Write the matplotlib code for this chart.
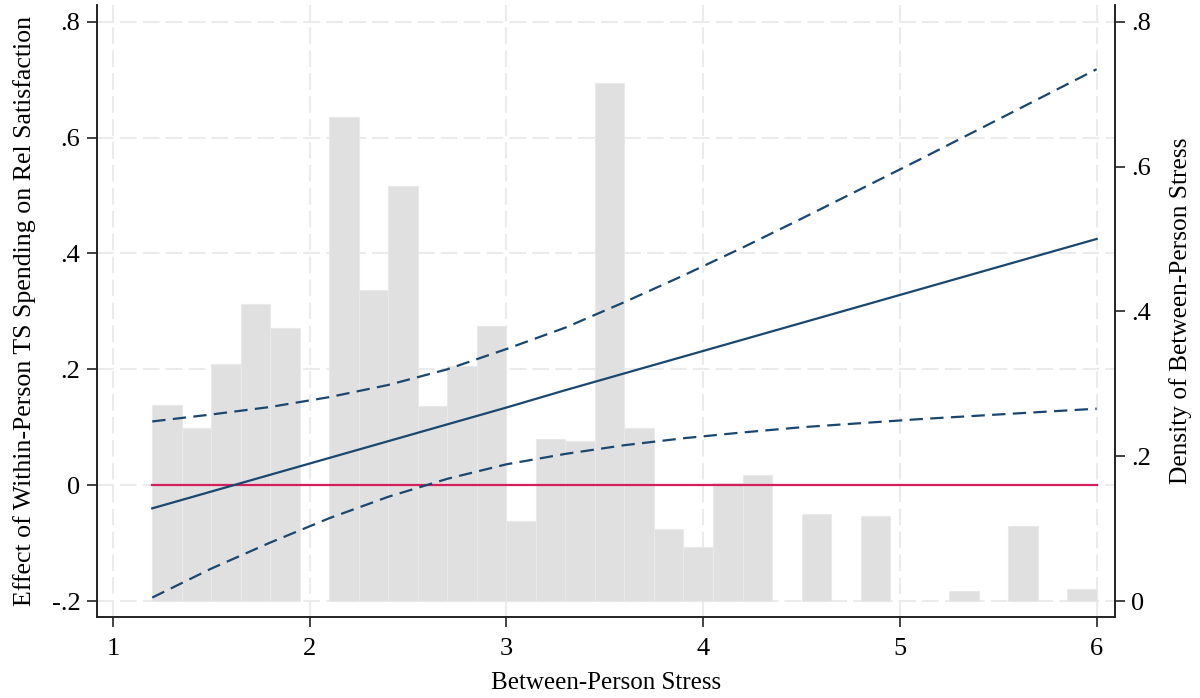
import matplotlib
matplotlib.use("Agg")
import matplotlib.pyplot as plt
import matplotlib.transforms as mtrans

plt.rcParams['font.family'] = ['Liberation Serif', 'DejaVu Serif']

# histogram of between-person stress (density), bins of width .15 from 1.2 to 6.0
bin_edges = [1.2 + 0.15 * i for i in range(33)]
density = [0.271, 0.239, 0.327, 0.410, 0.377, 0.0, 0.669, 0.430,
           0.573, 0.270, 0.324, 0.380, 0.111, 0.224, 0.221, 0.715,
           0.239, 0.099, 0.075, 0.163, 0.174, 0.0, 0.120, 0.0,
           0.117, 0.0, 0.0, 0.014, 0.0, 0.104, 0.0, 0.017]

# marginal effect and 95% CI
stress = [1.2, 1.5, 1.8, 2.1, 2.4, 2.7, 3.0, 3.3, 3.6, 3.9, 4.2, 4.5, 4.8, 5.1, 5.4, 5.7, 6.0]
effect = [-0.040, -0.011, 0.018, 0.047, 0.076, 0.105, 0.134, 0.164, 0.193,
          0.222, 0.251, 0.280, 0.309, 0.338, 0.367, 0.396, 0.425]
ci_hi = [0.110, 0.122, 0.135, 0.152, 0.173, 0.200, 0.235, 0.272, 0.316,
         0.362, 0.410, 0.460, 0.511, 0.562, 0.614, 0.666, 0.718]
ci_lo = [-0.194, -0.144, -0.099, -0.057, -0.020, 0.011, 0.036, 0.054, 0.069,
         0.081, 0.091, 0.100, 0.107, 0.114, 0.120, 0.126, 0.132]

left_ticks = [-0.2, 0, 0.2, 0.4, 0.6, 0.8]
left_labels = ['-.2', '0', '.2', '.4', '.6', '.8']
right_ticks = [0, 0.2, 0.4, 0.6, 0.8]
right_labels = ['0', '.2', '.4', '.6', '.8']
x_ticks = [1, 2, 3, 4, 5, 6]

navy = '#1a476f'
fig = plt.figure(figsize=(12, 6.98), dpi=100)
ax = fig.add_axes([0.0808, 0.116, 0.848, 0.877])
ax2 = ax.twinx()
ax.set_zorder(ax2.get_zorder() + 1)
ax.patch.set_visible(False)

# bars on the density axis (empty bins not drawn)
lefts = [bin_edges[i] for i in range(len(density)) if density[i] > 0]
heights = [d for d in density if d > 0]
widths = [0.15] * len(heights)
ax2.bar(lefts, heights, width=widths, align='edge',
        color='#e0e0e0', edgecolor='#e9e9e9', linewidth=0.8, zorder=2)

# grid (behind bars)
gridkw = dict(color='#ebebeb', lw=1.5, ls=(0, (8, 3)), zorder=0)
blend = mtrans.blended_transform_factory(ax2.transAxes, ax.transData)
for t in left_ticks:
    ax2.plot([0, 1], [t, t], transform=blend, **gridkw)
for t in x_ticks:
    ax2.axvline(t, **gridkw)

# lines on the effect axis
ax.plot(stress, [0] * len(stress), color='#d41f5b', lw=1.6)
ax.plot(stress, effect, color=navy, lw=1.6)
ax.plot(stress, ci_hi, color=navy, lw=1.6, ls=(0, (6, 3.3)))
ax.plot(stress, ci_lo, color=navy, lw=1.6, ls=(0, (6, 3.3)))

ax.set_xlim(0.919, 6.091)
ax.set_ylim(-0.2276, 0.829)
ax2.set_ylim(-0.0221, 0.8235)

ax.set_xticks(x_ticks)
ax.set_xticklabels([str(t) for t in x_ticks])
ax.set_yticks(left_ticks)
ax.set_yticklabels(left_labels)
ax2.set_yticks(right_ticks)
ax2.set_yticklabels(right_labels)

for a in (ax, ax2):
    a.spines['top'].set_visible(False)
    for s in a.spines.values():
        s.set_linewidth(1.2)
        s.set_color('#222222')
    a.tick_params(direction='out', length=7, width=1.2, labelsize=19, color='#222222', pad=5)
ax.tick_params(axis='x', pad=8)

ax.set_xlabel('Between-Person Stress', fontsize=18, labelpad=9)
ax.set_ylabel('Effect of Within-Person TS Spending on Rel Satisfaction', fontsize=18.6, labelpad=11)
ax2.set_ylabel('Density of Between-Person Stress', fontsize=18.3, labelpad=13)

fig.savefig('out.png', dpi=100)
